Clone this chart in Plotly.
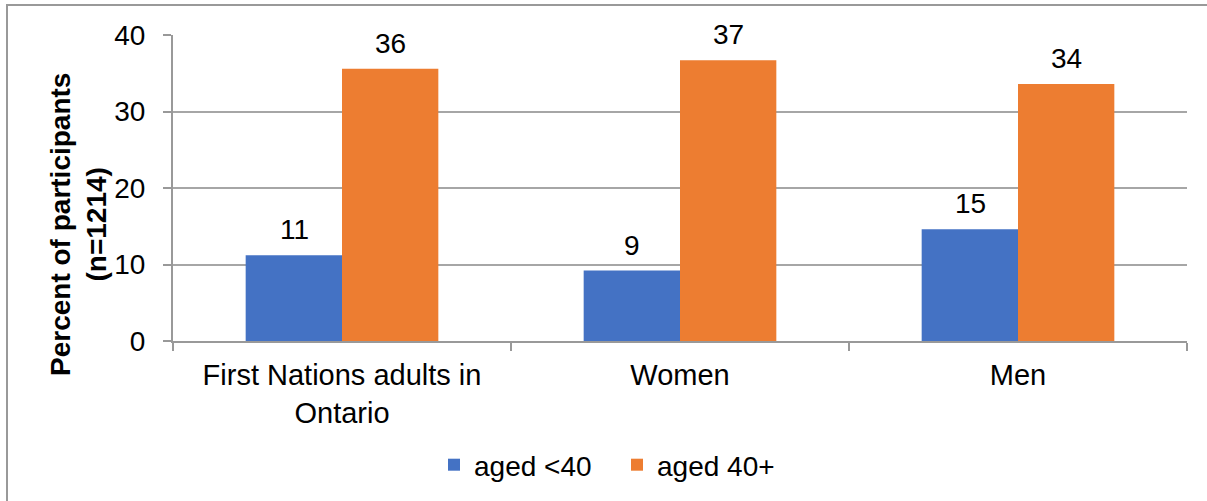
import plotly.graph_objects as go

categories = ["First Nations adults in<br>Ontario", "Women", "Men"]
under40 = [11.2, 9.2, 14.6]
over40 = [35.6, 36.7, 33.6]
under40_labels = ["11", "9", "15"]
over40_labels = ["36", "37", "34"]
series_names = ["aged <40", "aged 40+"]
colors = ["#4472C4", "#ED7D31"]
y_title = "<b>Percent of participants<br>(n=1214)</b>"

FONT = "Arial, Liberation Sans, sans-serif"
FS = 28

fig = go.Figure()
fig.add_trace(go.Bar(x=categories, y=under40, name=series_names[0],
                     marker=dict(color=colors[0], line=dict(width=0))))
fig.add_trace(go.Bar(x=categories, y=over40, name=series_names[1],
                     marker=dict(color=colors[1], line=dict(width=0))))

L, T, W, H = 173, 35, 1014, 306

# data labels above each bar
annotations = []
for vals, labs, shift in [(under40, under40_labels, -48), (over40, over40_labels, 48)]:
    for c, v, t in zip(categories, vals, labs):
        annotations.append(dict(x=c, y=v, text=t, showarrow=False, xshift=shift,
                                yanchor="bottom", yshift=8,
                                font=dict(size=FS, color="#000000")))
# y axis title
annotations.append(dict(xref="paper", yref="paper", x=(78 - L) / W, y=(341 - 225) / H,
                        xanchor="center", yanchor="middle", text=y_title, textangle=-90,
                        showarrow=False, font=dict(size=FS, color="#000000")))

fig.update_layout(
    width=1207, height=501,
    margin=dict(l=L, r=1207 - L - W, t=T, b=501 - T - H, autoexpand=False),
    paper_bgcolor="white", plot_bgcolor="white",
    font=dict(family=FONT, size=FS, color="#000000"),
    barmode="group", bargap=0.43, bargroupgap=0,
    showlegend=True,
    legend=dict(orientation="h", x=(434 - L) / W, xanchor="left",
                y=(341 - 465) / H, yanchor="middle",
                font=dict(size=FS), itemwidth=30, traceorder="normal",
                entrywidth=138, entrywidthmode="pixels"),
    xaxis=dict(tickson="boundaries", ticks="outside", ticklen=8, tickcolor="#999999",
               tickwidth=2, showline=True, linecolor="#999999", linewidth=2,
               showgrid=False, tickfont=dict(size=29), ticklabelstandoff=7),
    yaxis=dict(range=[0, 40], dtick=10, ticks="outside", ticklen=8, tickcolor="#999999",
               tickwidth=2, showline=True, linecolor="#999999", linewidth=2,
               showgrid=True, gridcolor="#A6A6A6", gridwidth=1.5, zeroline=False,
               tickfont=dict(size=FS), ticklabelstandoff=12),
    annotations=annotations,
    shapes=[dict(type="rect", xref="paper", yref="paper",
                 x0=(7 - L) / W, x1=(1230 - L) / W,
                 y0=(341 - 520) / H, y1=(341 - 5) / H,
                 line=dict(color="#999999", width=2), fillcolor="rgba(0,0,0,0)", layer="below")],
)

fig.write_html("out.html")
